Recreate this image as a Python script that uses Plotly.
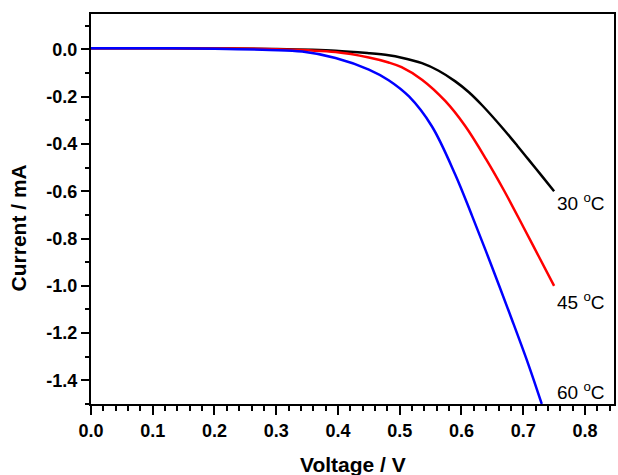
import plotly.graph_objects as go

# 30 °C (black)
v30 = [0.0, 0.1, 0.2, 0.3, 0.396, 0.45, 0.482, 0.503, 0.536, 0.563, 0.590, 0.612, 0.633, 0.665, 0.690, 0.708, 0.730, 0.750]
i30 = [0.005, 0.005, 0.004, 0.002, -0.005, -0.016, -0.025, -0.035, -0.058, -0.09, -0.135, -0.181, -0.235, -0.328, -0.406, -0.464, -0.535, -0.60]
# 45 °C (red)
v45 = [0.0, 0.1, 0.2, 0.3, 0.396, 0.45, 0.482, 0.503, 0.536, 0.574, 0.606, 0.640, 0.670, 0.700, 0.725, 0.750]
i45 = [0.005, 0.005, 0.004, 0.001, -0.011, -0.034, -0.055, -0.075, -0.128, -0.219, -0.324, -0.465, -0.602, -0.75, -0.875, -1.0]
# 60 °C (blue)
v60 = [0.0, 0.1, 0.2, 0.289, 0.342, 0.396, 0.45, 0.482, 0.515, 0.552, 0.590, 0.617, 0.649, 0.681, 0.708, 0.730]
i60 = [0.005, 0.005, 0.003, -0.002, -0.009, -0.036, -0.085, -0.130, -0.199, -0.325, -0.530, -0.703, -0.917, -1.138, -1.33, -1.50]

labels = ["30 <sup>o</sup>C", "45 <sup>o</sup>C", "60 <sup>o</sup>C"]
label_x = [0.752, 0.752, 0.752]
label_y = [-0.647, -1.064, -1.443]

xticks = [0.0, 0.1, 0.2, 0.3, 0.4, 0.5, 0.6, 0.7, 0.8]
xtick_text = ["0.0", "0.1", "0.2", "0.3", "0.4", "0.5", "0.6", "0.7", "0.8"]
yticks = [0.0, -0.2, -0.4, -0.6, -0.8, -1.0, -1.2, -1.4]
ytick_text = ["0.0", "-0.2", "-0.4", "-0.6", "-0.8", "-1.0", "-1.2", "-1.4"]

FONT = "Liberation Sans, Arial, sans-serif"

fig = go.Figure()
for v, i, c in [(v30, i30, "black"), (v45, i45, "#ff0000"), (v60, i60, "#0000ff")]:
    fig.add_trace(go.Scatter(x=v, y=i, mode="lines", line=dict(color=c, width=2.5, shape="spline", smoothing=1.0),
                             showlegend=False, cliponaxis=True))

for t, x, y in zip(labels, label_x, label_y):
    fig.add_annotation(x=x, y=y, text=t, showarrow=False, xanchor="left", yanchor="middle",
                       font=dict(family=FONT, size=19, color="black"))

fig.add_annotation(xref="paper", yref="paper", x=0.5, y=-0.156, text="<b>Voltage / V</b>", showarrow=False,
                   xanchor="center", yanchor="middle", font=dict(family=FONT, size=21, color="black"))
fig.add_annotation(xref="paper", yref="paper", x=-0.139, y=0.451, text="<b>Current / mA</b>", showarrow=False,
                   textangle=-90, xanchor="center", yanchor="middle", font=dict(family=FONT, size=21, color="black"))

fig.update_layout(
    width=618, height=475,
    margin=dict(l=91, r=2, t=14, b=71),
    paper_bgcolor="white", plot_bgcolor="white",
    font=dict(family=FONT, color="black"),
)
fig.update_xaxes(range=[0, 0.847], tickvals=xticks, ticktext=["<b>%s</b>" % t for t in xtick_text],
                 showgrid=False, zeroline=False,
                 showline=True, linecolor="black", linewidth=2, mirror=True,
                 ticks="outside", ticklen=9, tickwidth=2, tickcolor="black",
                 minor=dict(dtick=0.02, tick0=0, ticks="outside", ticklen=5, tickwidth=1.5, tickcolor="black"),
                 tickfont=dict(family=FONT, size=18, color="black"))
fig.update_yaxes(range=[-1.5, 0.15], tickvals=yticks, ticktext=["<b>%s</b>" % t for t in ytick_text],
                 showgrid=False, zeroline=False,
                 showline=True, linecolor="black", linewidth=2, mirror=True,
                 ticks="outside", ticklen=8, tickwidth=2, tickcolor="black",
                 minor=dict(dtick=0.1, tick0=0, ticks="outside", ticklen=4, tickwidth=1.5, tickcolor="black"),
                 tickfont=dict(family=FONT, size=18, color="black"))

fig.write_html("out.html")
